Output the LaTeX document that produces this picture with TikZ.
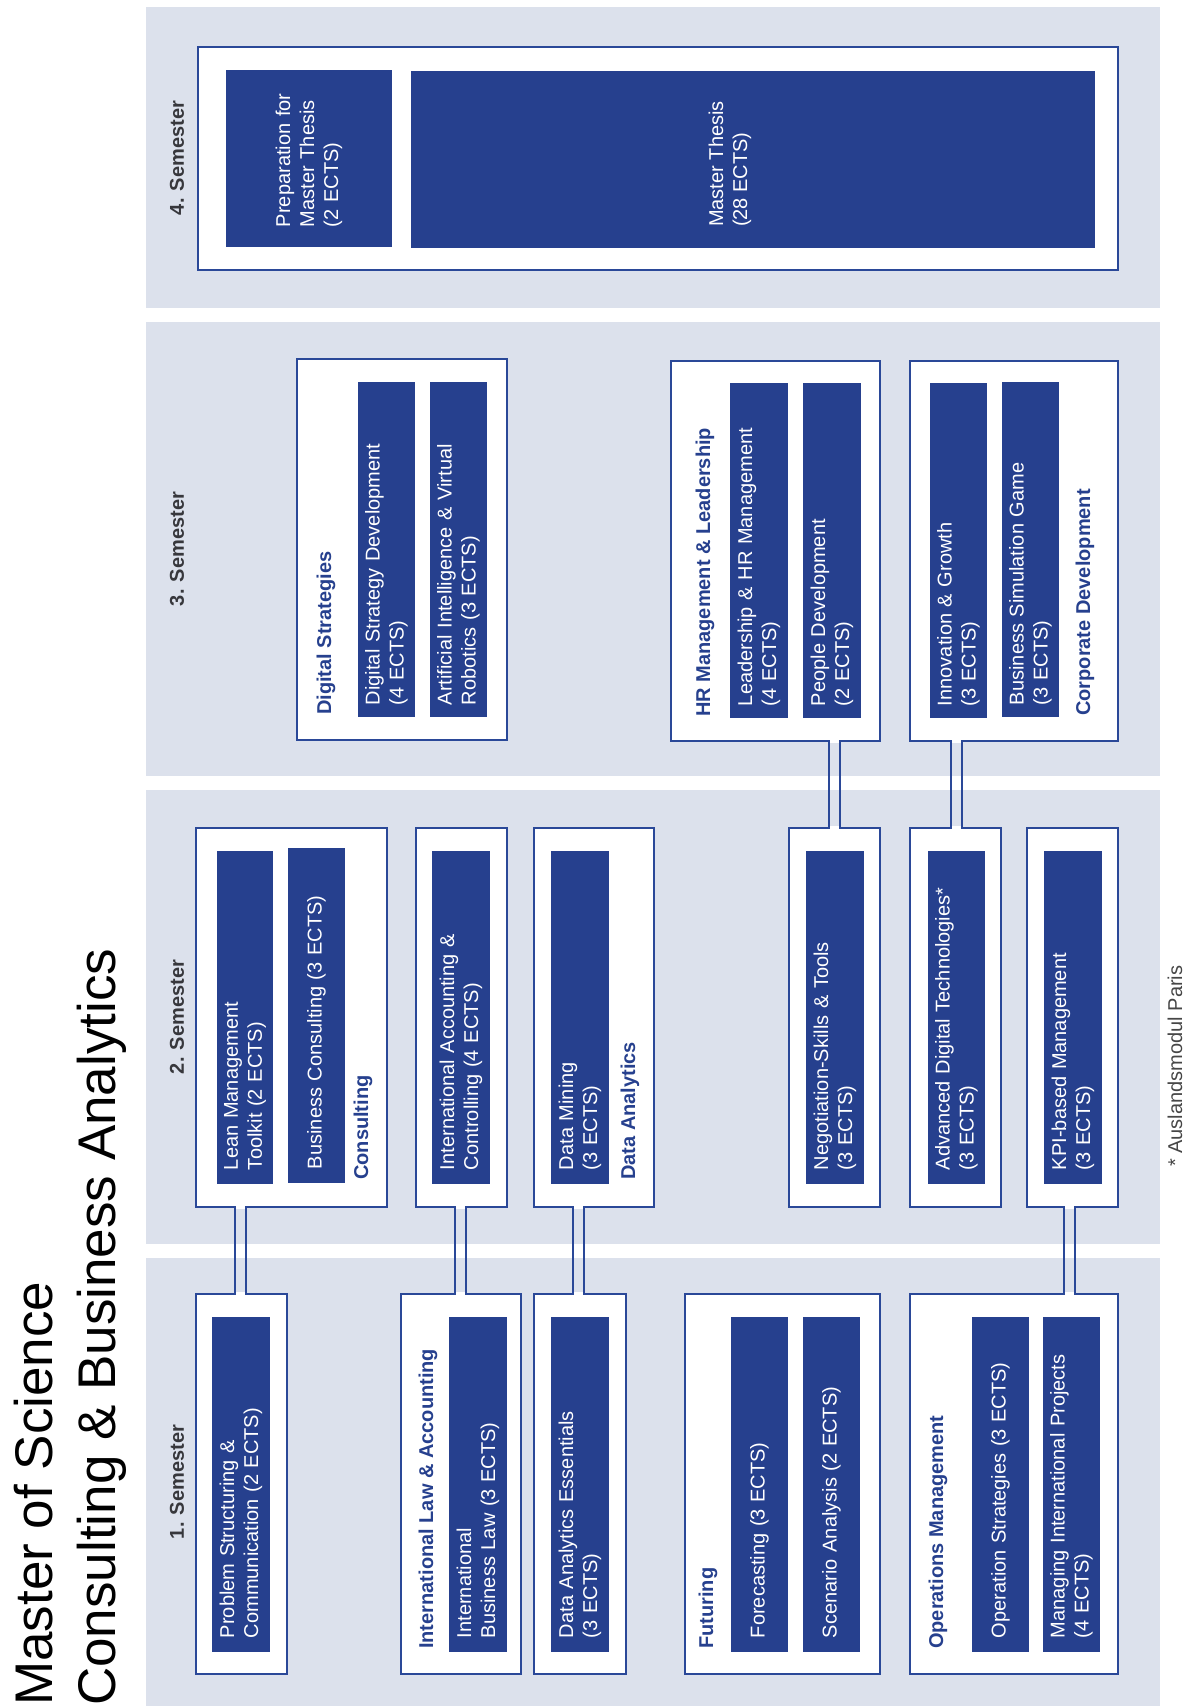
\documentclass[tikz,border=0pt]{standalone}
\usepackage{fontspec}
\setmainfont{Liberation Sans}
\definecolor{navy}{RGB}{38,64,142}
\definecolor{navyline}{RGB}{42,72,152}
\definecolor{bandc}{RGB}{220,225,236}
\definecolor{semgray}{RGB}{55,55,60}
\definecolor{footgray}{RGB}{70,70,70}
\tikzset{
  wbox/.style={draw=navyline, fill=white, line width=2.5pt, inner sep=0pt, outer sep=0pt},
  mod/.style={fill=navy, text=white, rotate=90, inner ysep=0pt, align=left, outer sep=0pt, font=\fontsize{20}{24}\selectfont},
  modtxt/.style={text=white, rotate=90, inner sep=0pt, align=left, font=\fontsize{20}{24}\selectfont},
  lbl/.style={rotate=90, anchor=west, inner sep=0pt, text=navy, font=\bfseries\fontsize{20}{24}\selectfont},
  semlbl/.style={rotate=90, inner sep=0pt, text=semgray, font=\bfseries\fontsize{20}{24}\selectfont},
  titletxt/.style={rotate=90, anchor=base west, inner sep=0pt, text=black, font=\fontsize{53}{60}\selectfont},
  footn/.style={rotate=90, anchor=west, inner sep=0pt, text=footgray, font=\fontsize{20}{24}\selectfont},
  cline/.style={draw=navyline, line width=2pt},
  bandfill/.style={fill=bandc},
}
\newcommand{\wbox}[5]{%
  \pgfmathsetmacro{\bcx}{(#2+#4)/2}%
  \pgfmathsetmacro{\bcy}{(#3+#5)/2}%
  \pgfmathsetmacro{\bw}{#4-#2}%
  \pgfmathsetmacro{\bh}{#5-#3}%
  \node[wbox, minimum width=\bw pt, minimum height=\bh pt] (#1) at (\bcx,\bcy) {};}
\newcommand{\modbox}[7]{%
  \pgfmathsetmacro{\bcx}{(#2+#4)/2}%
  \pgfmathsetmacro{\bcy}{(#3+#5)/2}%
  \pgfmathsetmacro{\bw}{#4-#2}%
  \pgfmathsetmacro{\bh}{#5-#3}%
  \pgfmathsetmacro{\btw}{#5-#3-2*#6}%
  \node[mod, inner xsep=#6pt, minimum width=\bh pt, minimum height=\bw pt, text width=\btw pt] (#1) at (\bcx,\bcy) {#7};}
\newcommand{\linkboxes}[3]{%
  \coordinate (#1#2l) at (#3-5.5,0);
  \coordinate (#1#2r) at (#3+5.5,0);
  \fill[white] (#1.south -| #1#2l) ++(1,-1.8) rectangle ++(9,3.6);
  \fill[white] (#2.north -| #1#2l) ++(1,-1.8) rectangle ++(9,3.6);
  \draw[cline] (#1.south -| #1#2l) -- (#2.north -| #1#2l);
  \draw[cline] (#1.south -| #1#2r) -- (#2.north -| #1#2r);}
\begin{document}
\begin{tikzpicture}[x=1pt,y=-1pt]
\useasboundingbox (0,0) rectangle (1190,1706);
% semester bands
\fill[bandfill] (146,7) rectangle (1160,308);
\fill[bandfill] (146,322) rectangle (1160,776);
\fill[bandfill] (146,790) rectangle (1160,1244);
\fill[bandfill] (146,1258) rectangle (1160,1706);
% title
\node[titletxt] (title1) at (52,1706) {Master of Science};
\node[titletxt] (title2) at (115,1706) {Consulting \& Business Analytics};
% semester labels
\node[semlbl] (sem4) at (177,158) {4. Semester};
\node[semlbl] (sem3) at (177,549) {3. Semester};
\node[semlbl] (sem2) at (177,1017) {2. Semester};
\node[semlbl] (sem1) at (177,1482) {1. Semester};
% ---- 4. Semester
\wbox{wfour}{198}{47}{1118}{270}
% ---- 3. Semester
\wbox{wds}{297}{359}{507}{740}
\wbox{whr}{671}{361}{880}{741}
\wbox{wcd}{910}{361}{1118}{741}
% ---- 2. Semester
\wbox{wcons}{196}{828}{387}{1207}
\wbox{wiac}{416}{828}{507}{1207}
\wbox{wda}{534}{828}{654}{1207}
\wbox{wneg}{789}{828}{880}{1207}
\wbox{wadt}{910}{828}{1001}{1207}
\wbox{wkpi}{1027}{828}{1118}{1207}
% ---- 1. Semester
\wbox{wps}{196}{1294}{287}{1674}
\wbox{wil}{401}{1294}{521}{1674}
\wbox{wdae}{534}{1294}{626}{1674}
\wbox{wfut}{685}{1294}{880}{1674}
\wbox{wops}{910}{1294}{1118}{1674}
% connectors
\linkboxes{whr}{wneg}{834}
\linkboxes{wcd}{wadt}{956}
\linkboxes{wcons}{wps}{240}
\linkboxes{wiac}{wil}{460}
\linkboxes{wda}{wdae}{578}
\linkboxes{wkpi}{wops}{1069.5}
% modules 4
\modbox{prep}{226}{70}{392}{247}{20}{Preparation for\\Master Thesis\\(2 ECTS)}
\modbox{thesis}{411}{71}{1095}{248}{21}{}
\node[modtxt, anchor=west] (thesistxt) at (730,227) {Master Thesis\\(28 ECTS)};
% modules 3
\modbox{dsd}{358}{382}{415}{717}{12}{Digital Strategy Development\\(4 ECTS)}
\modbox{ai}{430}{382}{487}{717}{12}{Artificial Intelligence \& Virtual\\Robotics (3 ECTS)}
\node[lbl] (lds) at (326,715) {Digital Strategies};
\modbox{lhr}{730}{383}{788}{718}{12}{Leadership \& HR Management\\(4 ECTS)}
\modbox{pd}{803}{383}{861}{718}{12}{People Development\\(2 ECTS)}
\node[lbl] (lhrl) at (705,717) {HR Management \& Leadership};
\modbox{ig}{930}{383}{987}{718}{12}{Innovation \& Growth\\(3 ECTS)}
\modbox{bsg}{1002}{382}{1059}{717}{12}{Business Simulation Game\\(3 ECTS)}
\node[lbl] (lcd) at (1085,716) {Corporate Development};
% modules 2
\modbox{lm}{217}{851}{273}{1184}{14}{Lean Management\\Toolkit (2 ECTS)}
\modbox{bc}{288}{848}{345}{1183}{14}{Business Consulting (3 ECTS)}
\node[lbl] (lcons) at (363,1180) {Consulting};
\modbox{iac}{432}{851}{490}{1184}{14}{International Accounting \&\\Controlling (4 ECTS)}
\modbox{dm}{551}{851}{609}{1184}{14}{Data Mining\\(3 ECTS)}
\node[lbl] (lda) at (630,1180) {Data Analytics};
\modbox{neg}{806}{851}{864}{1184}{14}{Negotiation-Skills \& Tools\\(3 ECTS)}
\modbox{adt}{928}{851}{985}{1184}{14}{Advanced Digital Technologies*\\(3 ECTS)}
\modbox{kpi}{1044}{851}{1102}{1184}{14}{KPI-based Management\\(3 ECTS)}
\node[footn] (fn) at (1175,1167) {* Auslandsmodul Paris};
% modules 1
\modbox{ps}{212}{1317}{270}{1652}{14}{Problem Structuring \&\\Communication (2 ECTS)}
\modbox{ibl}{449}{1317}{507}{1652}{14}{International\\Business Law (3 ECTS)}
\node[lbl] (lil) at (428,1649) {International Law \& Accounting};
\modbox{dae}{551}{1317}{609}{1652}{14}{Data Analytics Essentials\\(3 ECTS)}
\modbox{fc}{731}{1317}{788}{1652}{14}{Forecasting (3 ECTS)}
\modbox{sa}{803}{1317}{860}{1652}{14}{Scenario Analysis (2 ECTS)}
\node[lbl] (lfut) at (708,1649) {Futuring};
\modbox{os}{972}{1317}{1029}{1652}{14}{Operation Strategies (3 ECTS)}
\modbox{mip}{1043}{1317}{1100}{1652}{14}{Managing International Projects\\(4 ECTS)}
\node[lbl] (lops) at (938,1649) {Operations Management};
\end{tikzpicture}
\end{document}
